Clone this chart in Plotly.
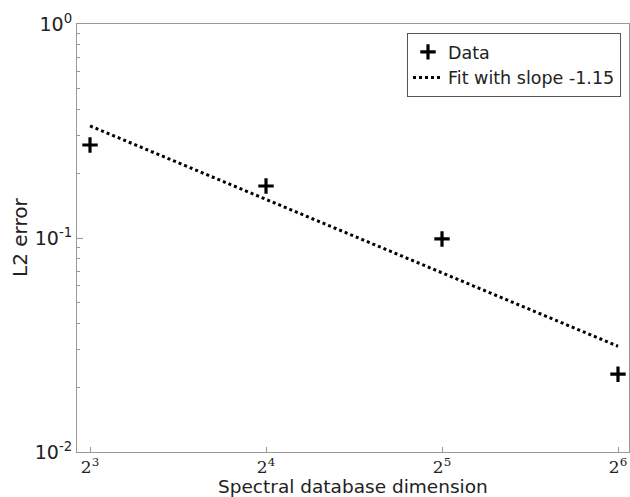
import plotly.graph_objects as go
import numpy as np

dims = [8, 16, 32, 64]
l2_error = [0.272, 0.175, 0.099, 0.0231]
fit_x = [8, 64]
fit_y = [0.334, 0.0312]
x_tick_vals = [8, 16, 32, 64]
x_tick_text = ["2<sup>3</sup>", "2<sup>4</sup>", "2<sup>5</sup>", "2<sup>6</sup>"]
y_tick_vals = [0.01, 0.1, 1]
y_tick_text = ["10<sup>-2</sup>", "10<sup>-1</sup>", "10<sup>0</sup>"]

W, H = 630, 497
L, R, T, B = 77, 1, 24, 45
PW, PH = W - L - R, H - T - B

fig = go.Figure()
fig.add_trace(go.Scatter(
    x=dims, y=l2_error, mode="markers", name="Data",
    marker=dict(symbol="cross-thin", size=11, line=dict(width=3.2, color="black"), color="black"),
))
fig.add_trace(go.Scatter(
    x=fit_x, y=fit_y, mode="lines", name="Fit with slope -1.15",
    line=dict(color="black", width=3, dash="dot"),
))

xr = [np.log10(2) * 2.926, np.log10(2) * 6.0625]
fig.update_layout(
    width=W, height=H,
    margin=dict(l=L, r=R, t=T, b=B, autoexpand=False),
    plot_bgcolor="white", paper_bgcolor="white",
    font=dict(family="DejaVu Sans", color="#222"),
    showlegend=True,
    legend=dict(
        x=0.9855, y=0.979, xanchor="right", yanchor="top",
        bordercolor="#555", borderwidth=1, bgcolor="white",
        font=dict(size=17.5), itemwidth=30,
    ),
    xaxis=dict(
        type="log", range=xr, tickvals=x_tick_vals, ticktext=x_tick_text,
        tickfont=dict(family="DejaVu Serif", size=17), ticklabeloverflow="allow",
        showgrid=False, showline=True, linecolor="#999", mirror=True,
        ticks="inside", ticklen=5, tickcolor="#999", automargin=False,
    ),
    yaxis=dict(
        type="log", range=[-2, 0], tickvals=y_tick_vals, ticktext=y_tick_text,
        tickfont=dict(size=19), automargin=False,
        showgrid=False, showline=True, linecolor="#999", mirror=True,
        ticks="inside", ticklen=6, tickcolor="#999",
        minor=dict(ticks="inside", ticklen=3, tickcolor="#999", tickvals=[0.02,0.03,0.04,0.05,0.06,0.07,0.08,0.09,0.2,0.3,0.4,0.5,0.6,0.7,0.8,0.9]),
    ),
    annotations=[
        dict(text="Spectral database dimension", x=0.5, xref="paper", y=-(486 - (H - B)) / PH, yref="paper",
             xanchor="center", yanchor="middle", showarrow=False, font=dict(size=18.5)),
        dict(text="L2 error", x=-(L - 20) / PW, xref="paper", y=0.5, yref="paper", showarrow=False,
             xanchor="center", yanchor="middle", textangle=-90, font=dict(size=20)),
    ],
)
fig.write_html("out.html", config={"displayModeBar": False},
               post_script="document.body.style.margin='0';document.body.style.overflow='hidden';")
